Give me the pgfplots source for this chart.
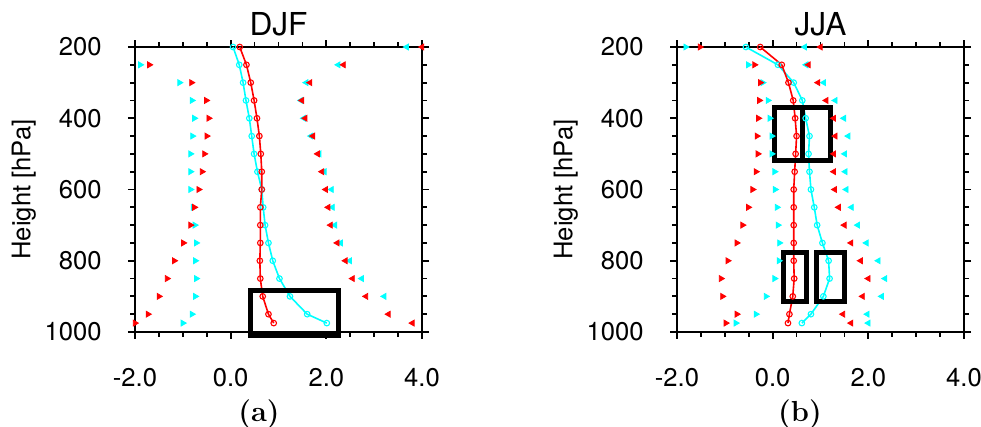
\documentclass[border=0pt]{standalone}
\usepackage{fontspec}
\setsansfont{TeX Gyre Heros}
\usepackage{pgfplots}
\pgfplotsset{compat=1.18}
\definecolor{myred}{RGB}{255,0,0}
\definecolor{mycyan}{RGB}{0,255,255}
\pgfplotsset{
  myax/.style={
    scale only axis, width=143.5pt, height=142.5pt,
    anchor=south west,
    xmin=-2, xmax=4, ymin=200, ymax=1000, y dir=reverse,
    xtick={-2,0,2,4}, xticklabels={-2.0,0.0,2.0,4.0},
    ytick={200,400,600,800,1000}, yticklabels={200,400,600,800,1000},
    minor x tick num=3, minor y tick num=3,
    tick align=outside, major tick length=3.5pt, minor tick length=2.3pt,
    axis line style={line width=0.9pt},
    every tick/.style={black, line width=0.9pt},
    tick label style={font=\fontsize{12.8}{14}\sffamily, inner sep=0pt},
    xticklabel style={anchor=base, yshift=-23.5pt},
    yticklabel style={anchor=east, xshift=-13pt},
    title style={font=\fontsize{15.8}{18}\sffamily, at={(axis description cs:0.5,1)}, anchor=base},
    ylabel={Height [hPa]},
    ylabel style={font=\fontsize{12.8}{14}\sffamily, at={(axis description cs:-0.387,0.5)}, anchor=center, rotate=0},
    clip=false,
  },
  ln/.style={line width=0.8pt, mark=o, mark size=1.4pt, mark options={line width=0.55pt}},
  tr/.style={only marks, mark=triangle*, mark size=1.7pt, mark options={rotate=-90}},
  tl/.style={only marks, mark=triangle*, mark size=1.7pt, mark options={rotate=90}},
  bx/.style={black, line width=2.5pt, mark=none, line join=miter},
}
\begin{document}
\begin{tikzpicture}
\useasboundingbox (0,0) rectangle (490.5pt,213.5pt);
% ---------------- DJF ----------------
\begin{axis}[myax, at={(67.5pt,47.5pt)}, title={DJF}]
\addplot[tr, mycyan] coordinates {(-1.89,250)(-1.07,300)(-0.81,350)(-0.76,400)(-0.80,450)(-0.84,500)(-0.84,550)(-0.84,600)(-0.79,650)(-0.75,700)(-0.72,750)(-0.74,800)(-0.72,850)(-0.74,900)(-0.81,950)(-1.00,975)};
\addplot[tr, myred] coordinates {(-1.70,250)(-0.82,300)(-0.51,350)(-0.46,400)(-0.50,450)(-0.55,500)(-0.60,550)(-0.67,600)(-0.76,650)(-0.84,700)(-0.99,750)(-1.18,800)(-1.33,850)(-1.50,900)(-1.73,950)(-2.00,975)};
\addplot[tl, mycyan] coordinates {(3.68,200)(2.25,250)(1.58,300)(1.47,350)(1.53,400)(1.68,450)(1.85,500)(1.96,550)(2.11,600)(2.13,650)(2.18,700)(2.30,750)(2.49,800)(2.74,850)(3.21,900)};
\addplot[tl, myred] coordinates {(4.00,200)(2.36,250)(1.66,300)(1.49,350)(1.56,400)(1.72,450)(1.82,500)(1.91,550)(1.99,600)(2.04,650)(2.09,700)(2.23,750)(2.40,800)(2.55,850)(2.83,900)(3.30,950)(3.80,975)};
\addplot[ln, mycyan] coordinates {(0.05,200)(0.18,250)(0.26,300)(0.32,350)(0.39,400)(0.44,450)(0.49,500)(0.56,550)(0.65,600)(0.68,650)(0.72,700)(0.79,750)(0.88,800)(1.02,850)(1.24,900)(1.60,950)(2.01,975)};
\addplot[ln, myred] coordinates {(0.19,200)(0.33,250)(0.42,300)(0.49,350)(0.55,400)(0.60,450)(0.63,500)(0.65,550)(0.65,600)(0.62,650)(0.62,700)(0.62,750)(0.61,800)(0.62,850)(0.67,900)(0.79,950)(0.90,975)};
\addplot[bx] coordinates {(0.42,884)(2.26,884)(2.26,1010)(0.42,1010)} -- cycle;
\node[font=\fontsize{14.5}{16}\bfseries] at (axis description cs:0.432,-0.29) {(a)};
\end{axis}
% ---------------- JJA ----------------
\begin{axis}[myax, at={(338.5pt,47.5pt)}, title={JJA}]
\addplot[tr, mycyan] coordinates {(-1.82,200)(-0.51,250)(-0.21,300)(-0.10,350)(-0.06,400)(-0.02,450)(-0.02,500)(0.04,550)(0.05,600)(0.09,650)(0.11,700)(0.14,750)(0.13,800)(0.04,850)(-0.14,900)(-0.35,950)(-0.77,975)};
\addplot[tr, myred] coordinates {(-1.52,200)(-0.38,250)(-0.26,300)(-0.28,350)(-0.30,400)(-0.33,450)(-0.31,500)(-0.35,550)(-0.42,600)(-0.51,650)(-0.63,700)(-0.75,750)(-0.94,800)(-1.08,850)(-1.05,900)(-0.75,950)(-0.98,975)};
\addplot[tl, mycyan] coordinates {(0.67,200)(0.70,250)(1.07,300)(1.31,350)(1.49,400)(1.58,450)(1.51,500)(1.52,550)(1.54,600)(1.65,650)(1.78,700)(1.96,750)(2.21,800)(2.35,850)(2.28,900)(1.98,950)(2.00,975)};
\addplot[tl, myred] coordinates {(1.00,200)(0.75,250)(0.95,300)(1.12,350)(1.28,400)(1.31,450)(1.28,500)(1.28,550)(1.30,600)(1.38,650)(1.50,700)(1.64,750)(1.84,800)(2.00,850)(1.88,900)(1.47,950)(1.64,975)};
\addplot[ln, mycyan] coordinates {(-0.56,200)(0.11,250)(0.44,300)(0.62,350)(0.69,400)(0.77,450)(0.75,500)(0.77,550)(0.80,600)(0.87,650)(0.93,700)(1.04,750)(1.17,800)(1.19,850)(1.06,900)(0.80,950)(0.61,975)};
\addplot[ln, myred] coordinates {(-0.26,200)(0.19,250)(0.33,300)(0.43,350)(0.47,400)(0.50,450)(0.48,500)(0.46,550)(0.44,600)(0.44,650)(0.44,700)(0.44,750)(0.44,800)(0.45,850)(0.42,900)(0.35,950)(0.32,975)};
\addplot[bx] coordinates {(0.04,370)(0.62,370)(0.62,518)(0.04,518)} -- cycle;
\addplot[bx] coordinates {(0.62,370)(1.21,370)(1.21,518)(0.62,518)} -- cycle;
\addplot[bx] coordinates {(0.23,776)(0.70,776)(0.70,914)(0.23,914)} -- cycle;
\addplot[bx] coordinates {(0.91,776)(1.50,776)(1.50,914)(0.91,914)} -- cycle;
\node[font=\fontsize{14.5}{16}\bfseries] at (axis description cs:0.4286,-0.29) {(b)};
\end{axis}
\end{tikzpicture}
\end{document}
